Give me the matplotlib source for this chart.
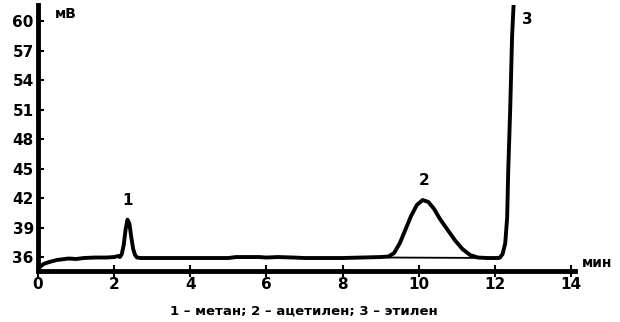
import matplotlib.pyplot as plt

# chromatogram: time (min) and signal (mV)
time_min = [0.0, 0.05, 0.15, 0.3, 0.5, 0.8, 1.0, 1.2, 1.5, 1.8, 2.0, 2.1, 2.15,
            2.2, 2.25, 2.3, 2.35, 2.4, 2.45, 2.5, 2.55, 2.6, 2.7,
            4.0, 5.0, 5.2, 5.8, 6.0, 6.3, 6.7, 7.0, 8.0, 8.5, 9.0, 9.2,
            9.35, 9.5, 9.65, 9.8, 9.95, 10.1, 10.25, 10.4, 10.55, 10.75,
            10.95, 11.15, 11.35, 11.55, 11.8, 12.1,
            12.13, 12.2, 12.27, 12.32, 12.35, 12.4, 12.45, 12.5]
signal_mv = [34.7, 35.0, 35.3, 35.5, 35.7, 35.85, 35.8, 35.9, 35.95, 35.95, 36.0, 36.1, 36.0,
             36.3, 37.2, 38.8, 39.8, 39.4, 38.0, 36.8, 36.2, 35.95, 35.9,
             35.9, 35.9, 36.0, 36.0, 35.95, 36.0, 35.95, 35.9, 35.9, 35.95, 36.0, 36.05,
             36.4, 37.4, 38.8, 40.2, 41.3, 41.8, 41.6, 40.9, 39.9, 38.8,
             37.7, 36.8, 36.2, 35.95, 35.9, 35.9,
             35.95, 36.3, 37.4, 40.0, 45.0, 51.0, 58.5, 62.5]

# drawn baseline under peak 2
base_t = [9.2, 12.15]
base_v = [35.95, 35.9]

peak_labels = ["1", "2", "3"]
peak_t = [2.35, 10.15, 12.85]
peak_v = [41.7, 43.8, 60.2]

x_ticks = [0, 2, 4, 6, 8, 10, 12, 14]
y_ticks = [36, 39, 42, 45, 48, 51, 54, 57, 60]
caption = "1 – метан; 2 – ацетилен; 3 – этилен"

plt.rcParams["font.family"] = ["DejaVu Sans"]
plt.rcParams["font.weight"] = "bold"

fig = plt.figure(figsize=(6.2, 3.22), dpi=100)
ax = fig.add_axes([0.0613, 0.1584, 0.866, 0.826])

ax.plot(time_min, signal_mv, color="black", lw=2.8, solid_joinstyle="round")
ax.plot(base_t, base_v, color="black", lw=1.3)

for lab, t, v in zip(peak_labels, peak_t, peak_v):
    ax.text(t, v, lab, ha="center", va="center", fontsize=11, fontweight="bold")

ax.set_xlim(0, 14.1)
ax.set_ylim(34.58, 61.63)
ax.set_xticks(x_ticks)
ax.set_yticks(y_ticks)
ax.tick_params(axis="x", direction="inout", length=8, width=1.5, labelsize=11, pad=0)
ax.tick_params(axis="y", direction="in", length=4, width=1.5, labelsize=11, pad=3)

for s in ["top", "right"]:
    ax.spines[s].set_visible(False)
for s in ["left", "bottom"]:
    ax.spines[s].set_linewidth(3.5)

ax.text(0.032, 0.965, "мВ", transform=ax.transAxes, ha="left", va="center",
        fontsize=10, fontweight="bold")
ax.text(1.013, 0.03, "мин", transform=ax.transAxes, ha="left", va="center",
        fontsize=10, fontweight="bold")

fig.text(0.49, 0.035, caption, ha="center", va="center", fontsize=9.5, fontweight="bold")

fig.savefig("out.png", dpi=100)
